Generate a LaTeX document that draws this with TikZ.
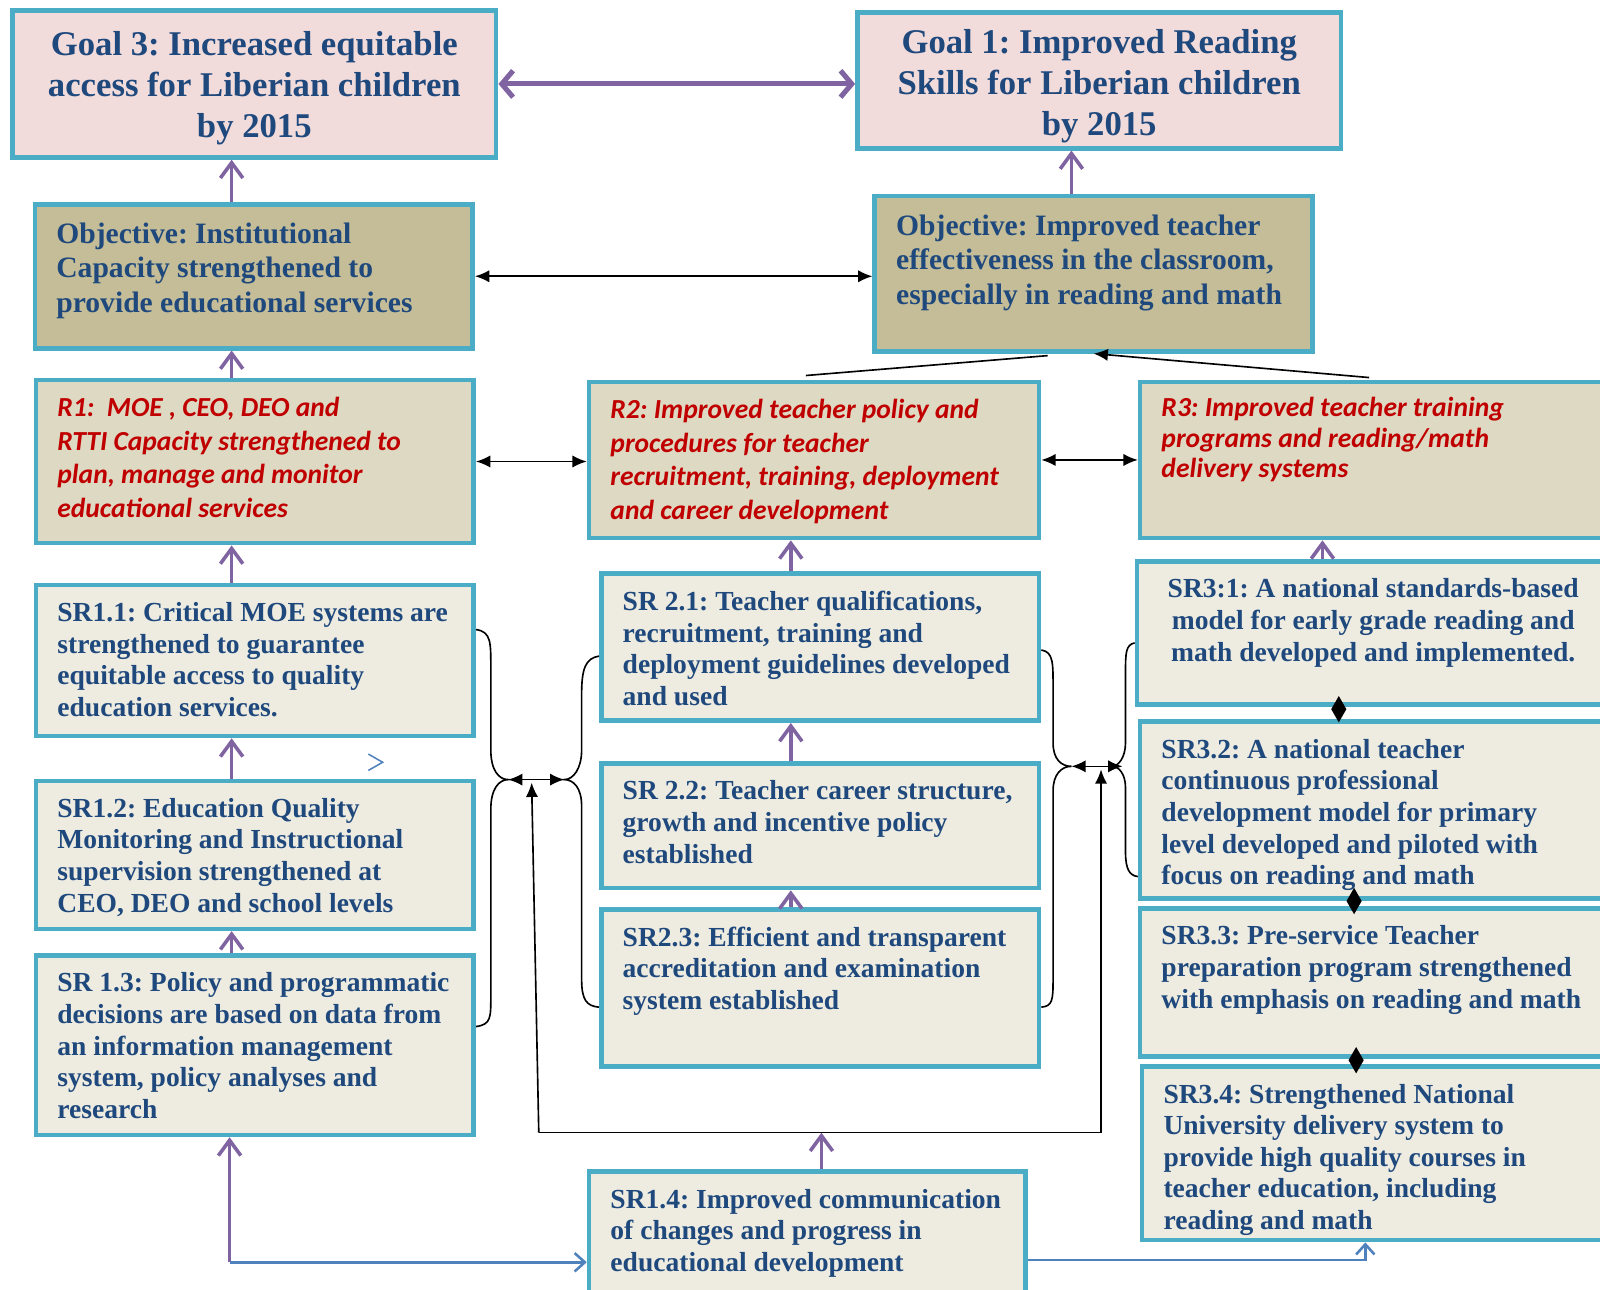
\documentclass[tikz,border=0pt]{standalone}
\usepackage{fontspec}
\setmainfont{Liberation Serif}
\newfontfamily\calibri{Carlito}
\usetikzlibrary{calc,shapes.geometric,arrows.meta}
\frenchspacing
\definecolor{aqua}{HTML}{4BACC6}
\definecolor{txtblue}{HTML}{1F497D}
\definecolor{txtred}{HTML}{C00000}
\definecolor{pinkfill}{HTML}{F2DCDB}
\definecolor{tanfill}{HTML}{C4BD97}
\definecolor{beigefill}{HTML}{DDD9C3}
\definecolor{creamfill}{HTML}{EEECE1}
\definecolor{purp}{HTML}{8064A2}
\definecolor{blueln}{HTML}{4F81BD}
\newcommand\lbox[4][17]{\parbox[c][#3pt][t]{#2pt}{\vspace*{#1pt}\raggedright\leftskip=21pt\relax #4}}
\newcommand\cbox[4][17]{\parbox[c][#3pt][t]{#2pt}{\vspace*{#1pt}\centering #4}}
\begin{document}
\begin{tikzpicture}[x=1pt, y=-1pt,
    box/.style={draw=aqua, line width=4.5pt, inner sep=0pt, anchor=north west},
    goal/.style={box, fill=pinkfill, text=txtblue, font=\bfseries\fontsize{34}{40}\selectfont},
    obj/.style={box, fill=tanfill, text=txtblue, font=\bfseries\fontsize{29}{34}\selectfont},
    res/.style={box, fill=beigefill, text=txtred, font=\calibri\bfseries\itshape\fontsize{27}{33}\selectfont},
    sub/.style={box, fill=creamfill, text=txtblue, font=\bfseries\fontsize{27}{31}\selectfont},
    goesup/.style={draw=purp, line width=3.5pt, -{Straight Barb[length=15pt,width=22pt]}},
    wire/.style={draw=black, line width=1.6pt},
    twoway/.style={wire, {Latex[length=14pt,width=12pt]}-{Latex[length=14pt,width=12pt]}},
    oneway/.style={wire, -{Latex[length=14pt,width=12pt]}},
    bluewire/.style={draw=blueln, line width=2.5pt},
    gem/.style={diamond, fill=black, inner sep=0pt, minimum width=15pt, minimum height=26pt, shape aspect=0.58}]
  \useasboundingbox (0,0) rectangle (1568,1264);
  \node[goal] (G3) at (10,8) {\cbox[21]{474}{144}{Goal 3: Increased equitable\\access for Liberian children\\by 2015}};
  \node[goal] (G1) at (838,10) {\cbox[17]{474}{133}{Goal 1: Improved Reading\\Skills for Liberian children\\by 2015}};
  \node[obj] (OL) at (32,198) {\lbox[18]{429}{141}{Objective: Institutional\\Capacity strengthened to\\provide educational services}};
  \node[obj] (OR) at (855,190) {\lbox[18]{429}{152}{Objective: Improved teacher\\effectiveness in the classroom,\\especially in reading and math}};
  \node[res] (R1) at (33,370) {\lbox{429}{160}{R1:\ \ MOE , CEO, DEO and\\RTTI Capacity strengthened to\\plan, manage and monitor\\educational services}};
  \node[res] (R2) at (575,372) {\lbox{441}{153}{R2: Improved teacher policy and\\procedures for teacher\\recruitment, training, deployment\\and career development}};
  \node[res, font=\calibri\bfseries\itshape\fontsize{27}{30}\selectfont] (R3) at (1115,372) {\lbox[15]{465}{153}{R3: Improved teacher training\\programs and reading/math\\delivery systems}};
  \node[sub] (S11) at (33,571) {\lbox{429}{148}{SR1.1: Critical MOE systems are\\strengthened to guarantee\\equitable access to quality\\education services.}};
  \node[sub] (S12) at (33,763) {\lbox{429}{145}{SR1.2: Education Quality\\Monitoring and Instructional\\supervision strengthened at\\CEO, DEO and school levels}};
  \node[sub] (S13) at (33,934) {\lbox{429}{176}{SR 1.3: Policy and programmatic\\decisions are based on data from\\an information management\\system, policy analyses and\\research}};
  \node[sub] (S21) at (587,560) {\lbox{429}{144}{SR 2.1: Teacher qualifications,\\recruitment, training and\\deployment guidelines developed\\and used}};
  \node[sub] (S22) at (587,746) {\lbox{429}{122}{SR 2.2: Teacher career structure,\\growth and incentive policy\\established}};
  \node[sub] (S23) at (587,889) {\lbox{429}{154}{SR2.3: Efficient and transparent\\accreditation and examination\\system established}};
  \node[sub] (S31) at (1112,548) {\cbox{463}{140}{SR3:1: A national standards-based\\model for early grade reading and\\math developed and implemented.}};
  \node[sub] (S32) at (1115,705) {\lbox{465}{173}{SR3.2: A national teacher\\continuous professional\\development model for primary\\level developed and piloted with\\focus on reading and math}};
  \node[sub] (S33) at (1115,888) {\lbox{465}{145}{SR3.3: Pre-service Teacher\\preparation program strengthened\\with emphasis on reading and math}};
  \node[sub] (S34) at (1117,1043) {\lbox{463}{170}{SR3.4: Strengthened National\\University delivery system to\\provide high quality courses in\\teacher education, including\\reading and math}};
  \node[sub] (S14) at (575,1146) {\lbox{428}{150}{SR1.4: Improved communication\\of changes and progress in\\educational development}};
  \node[gem] (d1) at (1312,695) {};
  \node[gem] (d2) at (1327,883) {};
  \node[gem] (d3) at (1329,1039) {};
  \coordinate (cl) at (227,0);
  \coordinate (cm) at (775,0);
  \coordinate (cr) at (1296,0);
  \coordinate (cg) at (1050,0);
  \coordinate (cs) at (805,0);
  \coordinate (bl) at (528,1110);
  \coordinate (br) at (1079,1110);
  \coordinate (ja) at (521,767);
  \coordinate (jb) at (1079,754);
  \coordinate (tA) at (498,764);
  \coordinate (tB) at (553,764);
  \coordinate (tC) at (1050,751);
  \coordinate (tD) at (1100,751);
  \coordinate (corner) at (225,1237);
  \coordinate (turn) at (1338,1235);
  \draw[draw=purp, line width=5pt, {Straight Barb[length=11pt,width=26pt]}-{Straight Barb[length=11pt,width=26pt]}] (G3.east) -- (G3.east -| G1.west);
  \draw[goesup] (OL.north -| cl) -- (G3.south -| cl);
  \draw[goesup] (OR.north -| cg) -- (G1.south -| cg);
  \draw[goesup] (R1.north -| cl) -- (OL.south -| cl);
  \draw[goesup] (S11.north -| cl) -- (R1.south -| cl);
  \draw[goesup] (S12.north -| cl) -- (S11.south -| cl);
  \draw[goesup] (S13.north -| cl) -- (S12.south -| cl);
  \draw[goesup] (S21.north -| cm) -- (R2.south -| cm);
  \draw[goesup] (S22.north -| cm) -- (S21.south -| cm);
  \draw[goesup] (S23.north -| cm) -- (S22.south -| cm);
  \draw[goesup] (S31.north -| cr) -- (R3.south -| cr);
  \draw[goesup] (S14.north -| cs) -- (bl -| cs);
  \draw[goesup] (corner) -- (corner |- S13.south);
  \draw[twoway] (OL.east) -- (OL.east -| OR.west);
  \draw[twoway] (R1.east) -- (R1.east -| R2.west);
  \draw[twoway] (R2.east) -- (R2.east -| R3.west);
  \draw[wire] ($(R2.north)+(-8,-4)$) -- ($(OR.south)+(-45,2)$);
  \draw[oneway] ($(R3.north)+(-8,-2)$) -- (OR.south);
  \draw[wire] ($(S11.north east)+(0,46)$) .. controls +(15,2) and +(0,-25) .. (481,655) -- (481,735)
    .. controls +(0,20) and +(-9,0) .. (tA) .. controls +(-9,0) and +(0,-20) .. (481,793) -- (481,975)
    .. controls +(0,22) and +(15,-2) .. ($(S13.north east)+(0,72)$);
  \draw[wire] ($(S21.north west)+(0,83)$) .. controls +(-13,2) and +(0,-25) .. (570,680) -- (570,735)
    .. controls +(0,18) and +(9,0) .. (tB) .. controls +(9,0) and +(0,-18) .. (570,790) -- (570,960)
    .. controls +(0,20) and +(-12,-1) .. ($(S23.north west)+(0,98)$);
  \draw[wire] ($(S21.north east)+(0,77)$) .. controls +(12,2) and +(0,-25) .. (1032,675) -- (1032,728)
    .. controls +(0,16) and +(-10,0) .. (tC) .. controls +(-10,0) and +(0,-16) .. (1032,775) -- (1032,960)
    .. controls +(0,20) and +(11,-1) .. ($(S23.north east)+(0,98)$);
  \draw[wire] ($(S31.north west)+(0,82)$) .. controls +(-9,2) and +(0,-20) .. (1103,660) -- (1103,728)
    .. controls +(0,14) and +(6,0) .. (1090,751) .. controls +(6,0) and +(0,-14) .. (1103,772) -- (1103,835)
    .. controls +(0,17) and +(-8,-1) .. ($(S32.north west)+(0,154)$);
  \draw[twoway] (tA) -- (tB);
  \draw[twoway] (tC) -- (tD);
  \draw[wire] (bl) -- (br);
  \draw[oneway] (bl) -- (ja);
  \draw[oneway] (br) -- (jb);
  \draw[bluewire, -{Straight Barb[length=10pt,width=18pt]}] (corner) -- (corner -| S14.west);
  \draw[bluewire, -{Straight Barb[length=10pt,width=18pt]}] (S14.east |- turn) -- (turn) -- (turn |- S34.south);
  \draw[bluewire, line width=1.5pt] (361,739) -- (375,747) -- (361,755);
\end{tikzpicture}
\end{document}
